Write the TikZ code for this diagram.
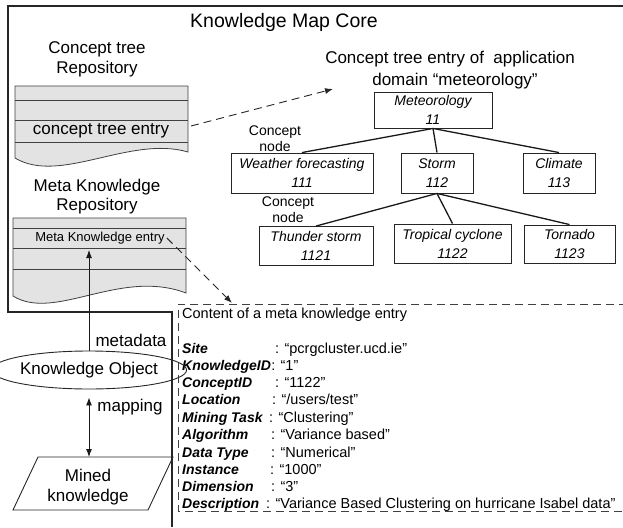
\documentclass[tikz,border=0pt]{standalone}
\usepackage{fontspec}
\setmainfont{Liberation Sans}
\usetikzlibrary{arrows.meta,shapes.geometric}
\begin{document}
\begin{tikzpicture}[x=1pt,y=-1pt,
  frame/.style={draw=black!85, line width=1.6pt},
  repo/.style={draw=black!75, fill=black!11, line width=0.8pt},
  repoline/.style={draw=black!75, line width=0.8pt},
  cbox/.style={draw=black!85, line width=0.9pt, inner sep=0pt, align=center,
    font=\fontsize{14}{19}\selectfont\itshape},
  edge/.style={draw=black!90, line width=1.3pt},
  lbl/.style={inner sep=0pt, align=center},
  big/.style={font=\fontsize{17}{20}\selectfont},
  small/.style={font=\fontsize{14}{16}\selectfont},
  field/.style={inner sep=0pt, anchor=base west, font=\fontsize{14}{16}\selectfont\bfseries\itshape},
  fvalue/.style={inner sep=0pt, anchor=base west, font=\fontsize{14.5}{16}\selectfont},
  dasharrow/.style={draw=black!85, line width=0.9pt, dash pattern=on 8pt off 5pt,
    -{Latex[length=8pt,width=6pt]}},
  solidarrow/.style={draw=black!90, line width=0.9pt, -{Latex[length=8pt,width=6pt]}},
]
\useasboundingbox (0,0) rectangle (623,527);

% outer frame of the Knowledge Map Core
\draw[frame] (623,6) -- (8,6) -- (8,312) -- (172,312) -- (172,527);
\node[lbl, font=\fontsize{19.5}{22}\selectfont] (title) at (284,22) {Knowledge Map Core};

% Concept tree repository
\node[lbl, big] (ctrtitle) at (97,59) {Concept tree\\Repository};
\path[repo] (15,86) -- (188,86) -- (188,152) .. controls (130,135) and (60,185) .. (15,158) -- cycle;
\draw[repoline] (15,100) -- (188,100);
\draw[repoline] (15,120) -- (188,120);
\draw[repoline] (15,142) -- (188,142);
\node[lbl, big] (cte) at (101,131) {concept tree entry};

% Meta knowledge repository
\node[lbl, font=\fontsize{17}{19}\selectfont] (mkrtitle) at (97,197) {Meta Knowledge\\Repository};
\path[repo] (13,218) -- (186,218) -- (186,293) .. controls (120,268) and (55,322) .. (13,296) -- cycle;
\draw[repoline] (13,228) -- (186,228);
\draw[repoline] (13,248) -- (186,248);
\draw[repoline] (13,269) -- (186,269);
\node[lbl, font=\fontsize{13}{15}\selectfont] (mke) at (100,238) {Meta Knowledge entry};

% concept tree
\node[lbl, font=\fontsize{17}{22}\selectfont] (treetitle) at (450,70) {Concept tree entry of \ application\\\hspace*{10pt}domain “meteorology”};
\node[cbox, minimum width=118pt, minimum height=36pt] (met) at (433,110) {Meteorology\\11};
\node[cbox, minimum width=142pt, minimum height=40pt] (wf) at (302,173) {Weather forecasting\\111};
\node[cbox, minimum width=72pt, minimum height=40pt] (storm) at (437,173) {Storm\\112};
\node[cbox, minimum width=72pt, minimum height=40pt] (climate) at (559,173) {Climate\\113};
\node[cbox, minimum width=114pt, minimum height=39pt] (thunder) at (316,246) {Thunder storm\\1121};
\node[cbox, minimum width=117pt, minimum height=39pt] (tropical) at (452.5,243.5) {Tropical cyclone\\1122};
\node[cbox, minimum width=91pt, minimum height=38pt] (tornado) at (569.5,244) {Tornado\\1123};
\draw[edge] (met.south) -- (wf.north);
\draw[edge] (met.south) -- (storm.north);
\draw[edge] (met.south) -- (climate.north);
\draw[edge] (storm.south) -- (thunder.north);
\draw[edge] (storm.south) -- (tropical.north);
\draw[edge] (storm.south) -- (tornado.north);
\node[lbl, small] (cn1) at (275,139) {Concept\\node};
\node[lbl, small] (cn2) at (288,210) {Concept\\node};

% dashed arrows
\coordinate (ctstart) at (191,126);
\coordinate (ttip) at (333,89);
\draw[dasharrow] (ctstart) -- (ttip);
\coordinate (ctip) at (232,303);
\draw[dasharrow] ([xshift=2pt]mke.east) -- (ctip);

% content box
\draw[draw=black!75, line width=0.9pt, dash pattern=on 8pt off 5pt] (640,304) -- (178,304) -- (178,511) -- (640,511);
\node[fvalue] (ctitle) at (182,318) {Content of a meta knowledge entry};
\node[field] (f1) at (182,353) {Site};
\node[fvalue] (v1) at (275,353) {: “pcrgcluster.ucd.ie”};
\node[field] (f2) at (182,370) {KnowledgeID};
\node[fvalue] (v2) at (f2.base east) [anchor=base west] {: “1”};
\node[field] (f3) at (182,387) {ConceptID};
\node[fvalue] (v3) at (275,387) {: “1122”};
\node[field] (f4) at (182,404) {Location};
\node[fvalue] (v4) at (272,404) {: “/users/test”};
\node[field] (f5) at (182,422) {Mining Task};
\node[fvalue] (v5) at (269,422) {: “Clustering”};
\node[field] (f6) at (182,439) {Algorithm};
\node[fvalue] (v6) at (271,439) {: “Variance based”};
\node[field] (f7) at (182,457) {Data Type};
\node[fvalue] (v7) at (271,457) {: “Numerical”};
\node[field] (f8) at (182,474) {Instance};
\node[fvalue] (v8) at (270,474) {: “1000”};
\node[field] (f9) at (182,491) {Dimension};
\node[fvalue] (v9) at (271,491) {: “3”};
\node[field] (f10) at (182,508) {Description};
\node[fvalue] (v10) at (266,508) {: “Variance Based Clustering on hurricane Isabel data”};

% knowledge object and mined knowledge
\node[ellipse, draw=black!85, line width=0.9pt, minimum width=161pt, minimum height=38pt, inner sep=0pt, big] (ko) at (89,370) {Knowledge Object};
\coordinate (mtip) at (89,250);
\draw[solidarrow] (ko.north) -- (mtip);
\node[lbl, big] (metalbl) at (131,340) {metadata};

\draw[draw=black!85, line width=0.9pt] (38,457) -- (173,457) -- (148,510) -- (13,510) -- cycle;
\node[lbl, big] (mk) at (88,487) {Mined\\knowledge};
\coordinate (mktop) at (89,457);
\draw[draw=black!90, line width=0.9pt, {Latex[length=8pt,width=6pt]}-{Latex[length=8pt,width=6pt]}, shorten <=8pt] (ko.south) -- (mktop);
\node[lbl, big] (maplbl) at (130,407) {mapping};
\end{tikzpicture}
\end{document}
